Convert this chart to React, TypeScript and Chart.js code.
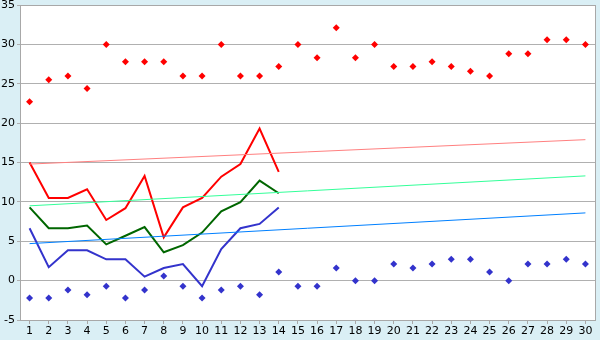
import React, { useEffect, useRef } from "react";
import { Chart, registerables } from "chart.js";

Chart.register(...registerables);

const dayLabels = ["1","2","3","4","5","6","7","8","9","10","11","12","13","14","15","16","17","18","19","20","21","22","23","24","25","26","27","28","29","30"];

const recordMax = [22.7,25.5,26.0,24.4,30.0,27.8,27.8,27.8,26.0,26.0,30.0,26.0,26.0,27.2,30.0,28.3,32.1,28.3,30.0,27.2,27.2,27.8,27.2,26.6,26.0,28.8,28.8,30.6,30.6,30.0];
const recordMin = [-2.2,-2.2,-1.2,-1.8,-0.7,-2.2,-1.2,0.6,-0.7,-2.2,-1.2,-0.7,-1.8,1.1,-0.7,-0.7,1.6,0.0,0.0,2.1,1.6,2.1,2.7,2.7,1.1,0.0,2.1,2.1,2.7,2.1];

const dailyMax = [15.0,10.5,10.5,11.6,7.7,9.2,13.3,5.5,9.3,10.5,13.2,14.8,19.3,13.8];
const dailyMean = [9.3,6.65,6.65,7.0,4.6,5.7,6.8,3.6,4.5,6.1,8.8,9.95,12.7,11.1];
const dailyMin = [6.65,1.7,3.85,3.85,2.7,2.7,0.5,1.6,2.1,-0.7,4.0,6.65,7.2,9.3];

const maxTrendEnds = [14.8, 17.9];
const meanTrendEnds = [9.5, 13.3];
const minTrendEnds = [4.7, 8.6];

function trendData(ends: number[]) {
  return dayLabels.map((_, i) => (i === 0 ? ends[0] : i === dayLabels.length - 1 ? ends[1] : null));
}

const plotFrame = {
  id: "plotFrame",
  beforeDraw(chart: any) {
    const { ctx, chartArea: a } = chart;
    ctx.save();
    ctx.fillStyle = "#ffffff";
    ctx.fillRect(a.left, a.top, a.right - a.left, a.bottom - a.top);
    ctx.restore();
  },
  afterDraw(chart: any) {
    const { ctx, chartArea: a } = chart;
    ctx.save();
    ctx.strokeStyle = "#a8a8a8";
    ctx.lineWidth = 1;
    ctx.strokeRect(Math.round(a.left) + 0.5, Math.round(a.top) + 0.5, Math.round(a.right - a.left), Math.round(a.bottom - a.top));
    ctx.restore();
  },
};

export default function App() {
  const ref = useRef<HTMLCanvasElement>(null);
  useEffect(() => {
    const font = { family: "'DejaVu Sans', Verdana, sans-serif", size: 11 };
    const chart = new Chart(ref.current as HTMLCanvasElement, {
      type: "line",
      data: {
        labels: dayLabels,
        datasets: [
          { data: trendData(maxTrendEnds), borderColor: "#ff8080", borderWidth: 1, pointRadius: 0, spanGaps: true },
          { data: trendData(meanTrendEnds), borderColor: "#33ff99", borderWidth: 1, pointRadius: 0, spanGaps: true },
          { data: trendData(minTrendEnds), borderColor: "#0080ff", borderWidth: 1, pointRadius: 0, spanGaps: true },
          { data: dailyMax, borderColor: "#ff0000", borderWidth: 2, pointRadius: 0 },
          { data: dailyMean, borderColor: "#006600", borderWidth: 2, pointRadius: 0 },
          { data: dailyMin, borderColor: "#3333cc", borderWidth: 2, pointRadius: 0 },
          { data: recordMax, showLine: false, pointStyle: "rectRot", pointRadius: 3.5, backgroundColor: "#ff0000", borderColor: "#ff0000", borderWidth: 0 },
          { data: recordMin, showLine: false, pointStyle: "rectRot", pointRadius: 3.5, backgroundColor: "#3333cc", borderColor: "#3333cc", borderWidth: 0 },
        ],
      },
      options: {
        responsive: false,
        animation: false,
        layout: { padding: { left: 0, right: 5, top: 0, bottom: 0 } },
        plugins: { legend: { display: false }, tooltip: { enabled: false } },
        scales: {
          x: {
            type: "category",
            offset: true,
            grid: { offset: false, drawOnChartArea: false, tickLength: 4, color: "#a8a8a8" },
            border: { color: "#a8a8a8" },
            ticks: { font, color: "#000", padding: 1, maxRotation: 0, autoSkip: false },
            afterFit: (s: any) => { s.height = 20; },
          },
          y: {
            min: -5,
            max: 35,
            ticks: { stepSize: 5, font, color: "#000", padding: 2 },
            grid: { color: "#b0b0b0", tickLength: 3 },
            border: { color: "#a8a8a8" },
            afterFit: (s: any) => { s.width = 20; s.paddingTop = 5; s.paddingBottom = 0; },
          },
        },
      },
      plugins: [plotFrame],
    } as any);
    return () => chart.destroy();
  }, []);
  return (
    <div style={{ position: "fixed", left: 0, top: 0, width: 600, height: 340, background: "#daeff5" }}>
      <canvas ref={ref} width={600} height={340} style={{ display: "block" }} />
    </div>
  );
}
